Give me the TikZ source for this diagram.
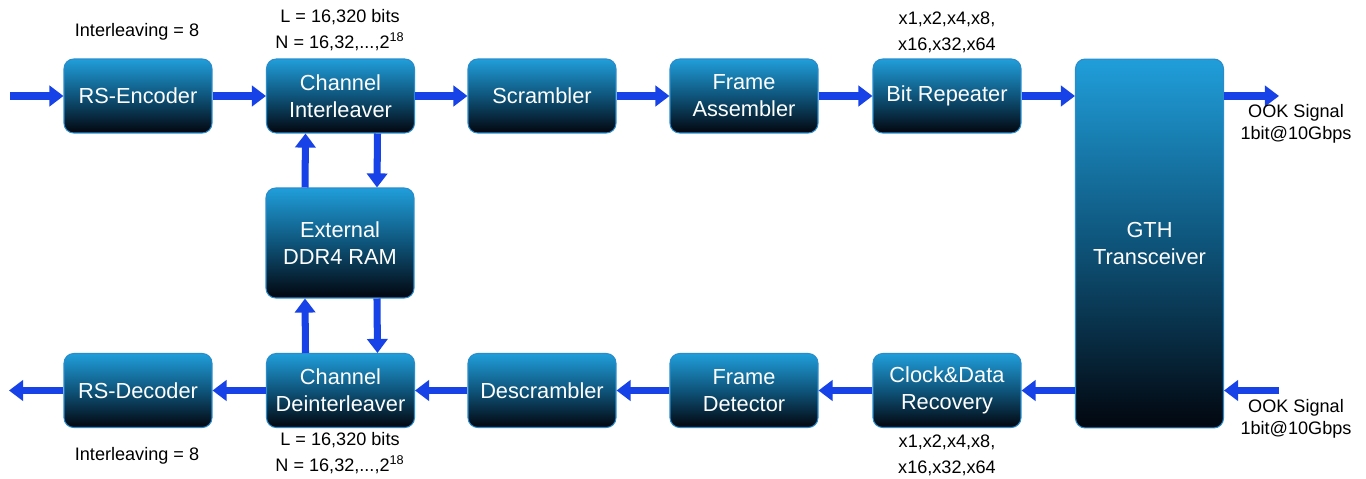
\documentclass[tikz,border=0pt]{standalone}
\usepackage{fontspec}
\setmainfont{Liberation Sans}
\usetikzlibrary{arrows.meta,calc}
\definecolor{boxtop}{RGB}{32,158,218}
\definecolor{boxmid}{RGB}{14,84,122}
\definecolor{boxbot}{RGB}{2,6,14}
\definecolor{boxline}{RGB}{40,140,205}
\definecolor{arrowblue}{RGB}{22,66,232}
\tikzset{
  blk/.style={draw=boxline, line width=0.6pt, rounded corners=5.5pt,
    top color=boxtop, bottom color=boxbot, middle color=boxmid,
    text=white, align=center, inner sep=0pt,
    minimum width=2.96cm, minimum height=1.48cm,
    font=\fontsize{12.4}{15.3}\selectfont},
  flow/.style={draw=arrowblue, line width=4pt,
    -{Triangle[width=11.5pt,length=8pt,fill=arrowblue]}, shorten >=0pt},
  lbl/.style={align=center, text=black, inner sep=0pt,
    font=\fontsize{10.3}{14.7}\selectfont},
  ook/.style={align=center, text=black, inner sep=0pt,
    font=\fontsize{10.3}{12.5}\selectfont}
}
\begin{document}
\begin{tikzpicture}[x=0.02cm,y=-0.02cm]
\useasboundingbox[fill=white] (0,0) rectangle (1366,479);
% top row
\node[blk] (enc) at (138,96) {RS-Encoder};
\node[blk] (ci) at (340.5,96) {Channel\\Interleaver};
\node[blk] (scr) at (542,96) {Scrambler};
\node[blk] (fa) at (744,96) {Frame\\Assembler};
\node[blk] (br) at (947,96) {Bit Repeater};
% GTH
\node[blk, minimum height=7.38cm] (gth) at (1149.5,243.5) {GTH\\Transceiver};
% DDR
\node[blk, minimum height=2.2cm] (ddr) at (340,243) {External\\DDR4 RAM};
% bottom row
\node[blk] (dec) at (138,390.5) {RS-Decoder};
\node[blk] (cd) at (340.5,390.5) {Channel\\Deinterleaver};
\node[blk] (dscr) at (542,390.5) {Descrambler};
\node[blk] (fd) at (744,390.5) {Frame\\Detector};
\node[blk] (cdr) at (947,390.5) {Clock\&Data\\Recovery};
% free ends
\coordinate (tin) at (10,96);
\coordinate (tout) at (1279,96);
\coordinate (bin) at (1279,390.5);
\coordinate (bout) at (9,390.5);
% top flow
\draw[flow] (tin) -- (enc.west);
\draw[flow] (enc.east) -- (ci.west);
\draw[flow] (ci.east) -- (scr.west);
\draw[flow] (scr.east) -- (fa.west);
\draw[flow] (fa.east) -- (br.west);
\draw[flow] (br.east) -- (br.east -| gth.west);
\draw[flow] (gth.east |- tout) -- (tout);
% bottom flow
\draw[flow] (bin) -- (gth.east |- bin);
\draw[flow] (gth.west |- cdr.east) -- (cdr.east);
\draw[flow] (cdr.west) -- (fd.east);
\draw[flow] (fd.west) -- (dscr.east);
\draw[flow] (dscr.west) -- (cd.east);
\draw[flow] (cd.west) -- (dec.east);
\draw[flow] (dec.west) -- (bout);
% memory flows
\draw[flow] ([xshift=0.74cm]ci.south) -- ([xshift=0.74cm]ddr.north);
\draw[flow] ([xshift=-0.7cm]ddr.north) -- ([xshift=-0.7cm]ci.south);
\draw[flow] ([xshift=0.74cm]ddr.south) -- ([xshift=0.74cm]cd.north);
\draw[flow] ([xshift=-0.7cm]cd.north) -- ([xshift=-0.7cm]ddr.south);
% labels
\node[lbl] (l1) at (137,32) {Interleaving = 8};
\node[lbl] (l2) at (340,30) {L = 16,320 bits\\N = 16,32,...,2\textsuperscript{18}};
\node[lbl] (l3) at (947,32) {x1,x2,x4,x8,\\x16,x32,x64};
\node[ook] (l4) at (1296,124) {OOK Signal\\1bit@10Gbps};
\node[ook] (l5) at (1296,419) {OOK Signal\\1bit@10Gbps};
\node[lbl] (l6) at (340,453) {L = 16,320 bits\\N = 16,32,...,2\textsuperscript{18}};
\node[lbl] (l7) at (137,456) {Interleaving = 8};
\node[lbl] (l8) at (947,455) {x1,x2,x4,x8,\\x16,x32,x64};
\end{tikzpicture}
\end{document}
